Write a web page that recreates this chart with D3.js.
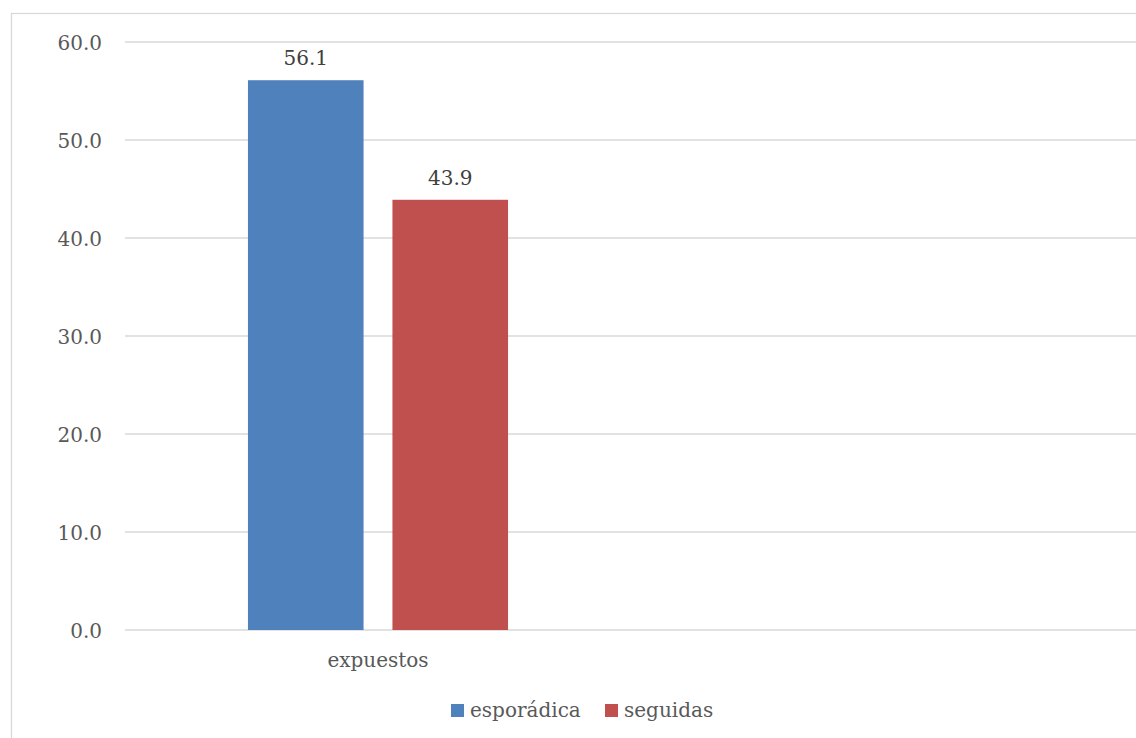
<!DOCTYPE html>
<html>
<head>
<meta charset="utf-8">
<script src="https://cdn.jsdelivr.net/npm/d3@7"></script>
<style>
  html, body { margin: 0; padding: 0; background: #fff; }
  svg { display: block; }
  text { font-family: "DejaVu Serif", "Liberation Serif", serif; }
</style>
</head>
<body>
<svg id="chart" width="1136" height="738"></svg>
<script>
// Categories on the x axis (second slot is left empty)
const categories = ["expuestos", ""];
// Series
const seriesNames = ["esporádica", "seguidas"];
const esporadica = [56.1, null];
const seguidas = [43.9, null];
const seriesColors = ["#4f81bd", "#c0504d"];
// Y axis ticks
const yTicks = [0, 10, 20, 30, 40, 50, 60];

const svg = d3.select("#chart");
const margin = { left: 125, right: 1137, top: 42, bottom: 630 };

// Chart frame
svg.append("rect")
  .attr("x", 11.5).attr("y", 13.5)
  .attr("width", 1200).attr("height", 800)
  .attr("fill", "#fff")
  .attr("stroke", "#d9d9d9").attr("stroke-width", 1.3);

const y = d3.scaleLinear().domain([0, 60]).range([margin.bottom, margin.top]);
const x0 = d3.scaleBand().domain(categories).range([margin.left, margin.right]);
const x1 = d3.scaleBand().domain(seriesNames)
  .range([x0.bandwidth() * 0.243, x0.bandwidth() * 0.757])
  .paddingInner(0.2);

// Horizontal gridlines
svg.append("g")
  .selectAll("line")
  .data(yTicks)
  .join("line")
  .attr("x1", margin.left).attr("x2", margin.right)
  .attr("y1", d => y(d)).attr("y2", d => y(d))
  .attr("stroke", "#d9d9d9").attr("stroke-width", 1.5);

// Y axis labels
const yAxis = d3.axisLeft(y).tickValues(yTicks).tickFormat(d3.format(".1f")).tickSize(0).tickPadding(0);
const gy = svg.append("g").attr("transform", "translate(102,0)").call(yAxis);
gy.select(".domain").remove();
gy.selectAll("text")
  .attr("fill", "#595959")
  .style("font-size", "20px")
  .style("font-family", "DejaVu Serif, serif")
  .attr("dy", "0.36em");

// X axis labels
const xAxis = d3.axisBottom(x0).tickSize(0).tickPadding(0);
const gx = svg.append("g").attr("transform", `translate(0,${margin.bottom})`).call(xAxis);
gx.select(".domain").remove();
gx.selectAll("text")
  .attr("fill", "#595959")
  .style("font-size", "20px")
  .style("font-family", "DejaVu Serif, serif")
  .attr("dy", "0")
  .attr("y", 37);

// Bars
const seriesData = [esporadica, seguidas];
const rows = categories.map((c, i) => ({
  cat: c,
  vals: seriesNames.map((s, j) => ({ name: s, value: seriesData[j][i], color: seriesColors[j] }))
    .filter(v => v.value != null)
}));

const groups = svg.append("g")
  .selectAll("g")
  .data(rows)
  .join("g")
  .attr("transform", d => `translate(${x0(d.cat)},0)`);

groups.selectAll("rect")
  .data(d => d.vals)
  .join("rect")
  .attr("x", d => x1(d.name))
  .attr("width", x1.bandwidth())
  .attr("y", d => y(d.value))
  .attr("height", d => y(0) - y(d.value))
  .attr("fill", d => d.color);

// Value labels
groups.selectAll("text.val")
  .data(d => d.vals)
  .join("text")
  .attr("class", "val")
  .attr("x", d => x1(d.name) + x1.bandwidth() / 2)
  .attr("y", d => y(d.value) - 15)
  .attr("text-anchor", "middle")
  .attr("fill", "#404040")
  .style("font-size", "20px")
  .text(d => d3.format(".1f")(d.value));

// Legend
const legendItems = [
  { name: seriesNames[0], color: seriesColors[0], x: 451 },
  { name: seriesNames[1], color: seriesColors[1], x: 605 }
];
const lg = svg.append("g").selectAll("g").data(legendItems).join("g")
  .attr("transform", d => `translate(${d.x},704)`);
lg.append("rect").attr("width", 13).attr("height", 13).attr("fill", d => d.color);
lg.append("text")
  .attr("x", 19).attr("y", 13)
  .attr("fill", "#595959")
  .style("font-size", "20px")
  .text(d => d.name);
</script>
</body>
</html>
